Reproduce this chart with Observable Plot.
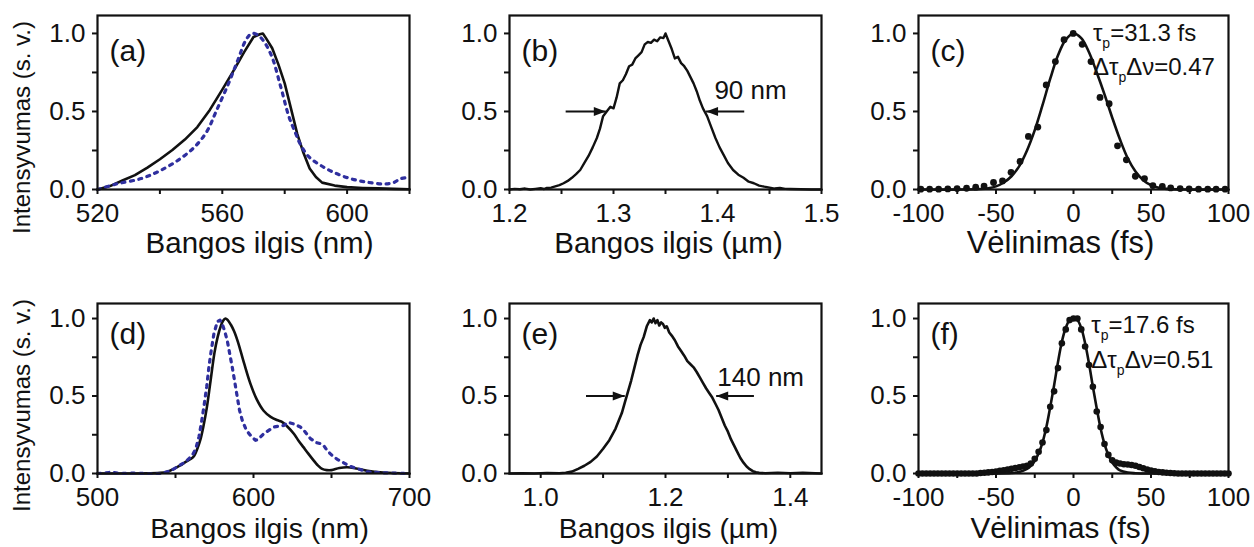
<!DOCTYPE html>
<html><head><meta charset="utf-8">
<script src="https://cdn.jsdelivr.net/npm/d3@7"></script>
<script src="https://cdn.jsdelivr.net/npm/@observablehq/plot@0.6"></script>
<style>
html,body{margin:0;padding:0;background:#fff;}
#chart{position:relative;width:1254px;height:547px;overflow:hidden;background:#fff;}
#chart svg{position:absolute;overflow:visible;}
</style></head><body><div id="chart"></div>
<script>
// ---------------- data ----------------
// (a) spectra, nm
const aSolidX = [520,524,528,532,536,540,544,548,552,556,560,564,567,570,572,573,574,576,578,580,582,584,586,588,590,592,596,600,605,610,615,620];
const aSolidY = [0,0.022,0.058,0.092,0.14,0.194,0.253,0.32,0.40,0.51,0.64,0.775,0.88,0.977,0.995,1.0,0.97,0.905,0.80,0.68,0.52,0.358,0.235,0.135,0.08,0.044,0.025,0.015,0.01,0.007,0.004,0.002];
const aDotX = [520,526,534,540,546,551,555,558,562,565,567.5,569.5,572,575.5,578.7,581.3,583.5,585,587.7,591.5,595.7,601,606.4,611.7,615,617,620];
const aDotY = [0,0.035,0.07,0.12,0.19,0.27,0.37,0.5,0.68,0.83,0.955,1.0,0.98,0.87,0.66,0.47,0.36,0.29,0.21,0.155,0.11,0.07,0.047,0.036,0.045,0.068,0.078];
// (b) spectrum, µm
const bX = [1.200,1.205,1.210,1.215,1.220,1.225,1.230,1.233,1.236,1.240,1.244,1.248,1.252,1.256,1.260,1.264,1.268,1.272,1.276,1.280,1.284,1.287,1.290,1.294,1.297,1.300,1.303,1.306,1.309,1.312,1.315,1.318,1.321,1.324,1.327,1.330,1.333,1.336,1.339,1.342,1.345,1.348,1.350,1.353,1.356,1.359,1.362,1.365,1.368,1.371,1.374,1.377,1.380,1.383,1.386,1.390,1.394,1.398,1.402,1.406,1.410,1.415,1.420,1.425,1.430,1.435,1.440,1.445,1.450,1.455,1.460,1.465,1.470,1.480,1.490,1.500];
const bY = [0,0.004,0.002,0.006,0,0.004,0.008,0.003,0.010,0.012,0.020,0.028,0.040,0.055,0.075,0.098,0.125,0.170,0.215,0.270,0.330,0.390,0.470,0.505,0.530,0.520,0.590,0.680,0.700,0.740,0.790,0.800,0.840,0.860,0.880,0.930,0.945,0.940,0.960,0.950,0.975,0.970,1.000,0.950,0.900,0.840,0.850,0.810,0.790,0.760,0.720,0.680,0.630,0.570,0.520,0.470,0.400,0.330,0.270,0.220,0.170,0.125,0.095,0.075,0.050,0.040,0.025,0.018,0.012,0.006,0.010,0.004,0.003,0.002,0,0];
const bFwhm = [{from:1.254,to:1.2926},{from:1.4257,to:1.389}];
const bNote = ["90 nm"];
// (c) autocorrelation, fs
const cDotX = [-98.5,-92.8,-87.0,-81.1,-75.1,-69.0,-63.1,-57.7,-51.6,-45.8,-40.3,-34.5,-29.1,-23.0,-17.6,-11.7,-6.1,-0.2,5.6,11.3,17.1,23.0,28.4,34.1,39.9,45.8,51.2,57.3,62.7,68.8,74.6,80.7,86.6,92.0,97.8];
const cDotY = [0.002,0.002,0.002,0.004,0.006,0.008,0.015,0.022,0.045,0.055,0.11,0.18,0.34,0.40,0.67,0.82,0.96,1.0,0.93,0.82,0.59,0.55,0.28,0.19,0.085,0.07,0.025,0.02,0.01,0.006,0.004,0.002,0.002,0.002,0.002];
const cFitX = [-100,-70,-60,-55,-50,-45,-40,-35,-30,-25,-20,-15,-10,-5,0,5,10,15,20,25,30,35,40,45,50,55,60,70,100];
const cFitY = [0,0,0.003,0.008,0.02,0.045,0.085,0.15,0.25,0.38,0.54,0.71,0.86,0.96,1.0,0.97,0.88,0.75,0.61,0.46,0.32,0.2,0.115,0.06,0.028,0.011,0.004,0,0];
const cNote = ["τ_p=31.3 fs", "Δτ_pΔν=0.47"];
// (d) spectra, nm
const dSolidX = [500,540,545,549,553,556.5,560,562,564,566,568,570,572.5,575,577,579,580.5,582,583.5,585.5,587.5,590,594,598,602,606.5,611,615,618,621.5,626,629,632,635,638.5,641,644,647,650,655,660,666,673,683,700];
const dSolidY = [0,0.004,0.012,0.03,0.052,0.075,0.095,0.115,0.16,0.22,0.31,0.42,0.6,0.78,0.88,0.95,0.985,1.0,0.99,0.96,0.92,0.85,0.71,0.58,0.48,0.405,0.365,0.345,0.335,0.305,0.255,0.21,0.17,0.13,0.085,0.055,0.03,0.022,0.022,0.035,0.04,0.032,0.017,0.006,0];
const dDotX = [500,505,508.5,515,523.5,530,540.5,545,549,553,556.5,560.8,563,565,566.5,568.2,570,571.4,573,574.6,576.8,578.5,580,581.5,583.2,584.8,586.4,588,589.6,591,592.8,595,597.1,599,601.3,603,606.6,610,613,616,619.4,622,625.8,628,630,633,636.5,640,642.9,645,647.1,649,651.4,654,657.8,661,664.2,668,672.7,678,683.4,690,700];
const dDotY = [0,0.004,0.008,0,0.003,0,0,0.012,0.03,0.055,0.075,0.118,0.16,0.235,0.32,0.43,0.56,0.685,0.80,0.90,0.98,0.99,0.964,0.92,0.857,0.77,0.685,0.59,0.493,0.41,0.343,0.29,0.257,0.235,0.214,0.22,0.257,0.28,0.30,0.305,0.31,0.33,0.32,0.31,0.30,0.27,0.225,0.20,0.193,0.18,0.15,0.13,0.107,0.09,0.069,0.05,0.039,0.027,0.011,0.008,0.004,0.003,0];
// (e) spectrum, µm
const eX = [0.950,0.970,0.990,1.010,1.030,1.040,1.050,1.060,1.070,1.080,1.090,1.100,1.110,1.120,1.130,1.135,1.140,1.145,1.150,1.155,1.160,1.165,1.170,1.175,1.178,1.181,1.184,1.187,1.190,1.193,1.196,1.199,1.202,1.206,1.210,1.215,1.220,1.225,1.230,1.235,1.240,1.245,1.250,1.255,1.260,1.265,1.270,1.275,1.280,1.285,1.290,1.295,1.300,1.305,1.310,1.315,1.320,1.325,1.330,1.335,1.340,1.345,1.350,1.360,1.380,1.400,1.420,1.450];
const eY = [0,0.002,0,0.003,0.002,0.005,0.012,0.030,0.050,0.075,0.110,0.160,0.215,0.290,0.390,0.460,0.530,0.600,0.680,0.760,0.830,0.880,0.950,0.990,0.975,1.000,0.970,0.990,0.955,0.975,0.965,0.940,0.950,0.910,0.890,0.860,0.820,0.790,0.760,0.725,0.705,0.685,0.655,0.620,0.585,0.550,0.520,0.490,0.450,0.410,0.360,0.310,0.270,0.220,0.180,0.140,0.100,0.070,0.045,0.028,0.015,0.008,0.004,0.002,0.005,0.002,0.004,0];
const eFwhm = [{from:1.0726,to:1.1347},{from:1.3417,to:1.2812}];
const eNote = ["140 nm"];
// (f) autocorrelation, fs
const fDotX = [-100,-97.5,-95,-92.5,-90,-87.5,-85,-82.5,-80,-77.5,-75,-72.5,-70,-67.5,-65,-62.5,-60,-57.5,-55,-52.5,-50,-47.5,-45,-42.5,-40,-37.5,-35,-32.5,-30,-27.5,-25,-22.5,-20,-17.5,-15,-12.5,-10,-7.5,-5,-2.5,0,2.5,5,7.5,10,12.5,15,17.5,20,22.5,25,27.5,30,32.5,35,37.5,40,42.5,45,47.5,50,52.5,55,57.5,60,62.5,65,67.5,70,72.5,75,77.5,80,82.5,85,87.5,90,92.5,95,97.5,100];
const fDotY = [0,0,0,0,0,0,0,0,0,0,0,0,0,0,0,0,0.003,0.005,0.007,0.01,0.013,0.017,0.021,0.026,0.03,0.035,0.04,0.045,0.05,0.065,0.095,0.14,0.2,0.28,0.43,0.53,0.68,0.84,0.93,0.99,1.0,1.0,0.93,0.82,0.70,0.56,0.40,0.30,0.19,0.12,0.085,0.07,0.065,0.06,0.058,0.055,0.05,0.042,0.034,0.026,0.019,0.014,0.01,0.007,0.005,0.003,0.002,0,0,0,0,0,0,0,0,0,0,0,0,0,0];
const fFitX = [-100,-50,-40,-35,-30,-27.5,-25,-22.5,-20,-17.5,-15,-12.5,-10,-7.5,-5,-2.5,0,2.5,5,7.5,10,12.5,15,17.5,20,22.5,25,27.5,30,35,40,50,100];
const fFitY = [0,0,0.003,0.01,0.03,0.05,0.08,0.13,0.2,0.3,0.43,0.57,0.72,0.85,0.94,0.99,1.0,0.99,0.94,0.84,0.71,0.56,0.42,0.29,0.19,0.12,0.07,0.04,0.02,0.006,0.002,0,0];
const fNote = ["τ_p=17.6 fs", "Δτ_pΔν=0.51"];

// axes
const yMajor = [0, 0.5, 1.0];
const yMinor = [0.25, 0.75];
const yTitle = "Intensyvumas (s. v.)";
const tags = ["(a)","(b)","(c)","(d)","(e)","(f)"];
const xTitles = ["Bangos ilgis (nm)","Bangos ilgis (µm)","Vėlinimas (fs)"];

// ---------------- rendering ----------------
const zip = (xs, ys) => xs.map((x, i) => ({x, y: ys[i]}));
const FONT = "'Liberation Sans', Arial, Helvetica, sans-serif";
const INK = "#111";
const BLUE = "#2f2f9f";

const ROWS = [
  {top: 0, height: 273, mt: 15, mb: 84, ymax: 1.115, tagDy: 36, ytDy: 25, xtDy: 54, xtScale: 1},
  {top: 273, height: 274, mt: 30, mb: 74, ymax: 1.097, tagDy: 31, ytDy: 17, xtDy: 55, xtScale: 0.96}
];
const COLS = [
  {left: 0, ml: 97, mr: 9, xtDx: 6, xtSize: 29.5},
  {left: 418, ml: 91, mr: 15, xtDx: 3, xtSize: 29.5},
  {left: 836, ml: 82, mr: 26, xtDx: -13, xtSize: 31}
];

const headSymbol = {draw(ctx) { ctx.moveTo(0, 0); ctx.lineTo(-12, -4.5); ctx.lineTo(-12, 4.5); ctx.closePath(); }};

const fmt1 = d3.format(".1f");
const fmtInt = d => String(d);

function fwhmMarks(arr) {
  return [
    Plot.link(arr, {x1: "from", x2: "to", y1: 0.5, y2: 0.5, stroke: INK, strokeWidth: 2}),
    Plot.dot(arr, {x: "to", y: 0.5, symbol: headSymbol, r: 5, fill: INK, stroke: "none",
      rotate: d => d.to > d.from ? 0 : 180})
  ];
}
function noteMarks(lines, x, y0, y1) {
  return [
    Plot.text([lines[0]], {x, y: y0, text: d => d, textAnchor: "start", lineAnchor: "middle", fontSize: 24, fill: INK}),
    Plot.text([lines[1]], {x, y: y1, text: d => d, textAnchor: "start", lineAnchor: "middle", fontSize: 24, fill: INK})
  ];
}
const dotted = {stroke: BLUE, strokeWidth: 3.2, strokeDasharray: "3,5.5"};

const panels = [
  {row: 0, col: 0, xDomain: [520, 620], xMajor: [520, 560, 600], xMinor: [540, 580, 620], xFmt: fmtInt,
   marks: [
     Plot.line(zip(aSolidX, aSolidY), {x: "x", y: "y", stroke: INK, strokeWidth: 2.6}),
     Plot.line(zip(aDotX, aDotY), {x: "x", y: "y", ...dotted, curve: "catmull-rom"})
   ]},
  {row: 0, col: 1, xDomain: [1.2, 1.5], xMajor: [1.2, 1.3, 1.4, 1.5], xMinor: [1.25, 1.35, 1.45], xFmt: fmt1,
   marks: [
     Plot.line(zip(bX, bY), {x: "x", y: "y", stroke: INK, strokeWidth: 2.4}),
     ...fwhmMarks(bFwhm),
     Plot.text(bNote, {x: 1.397, y: 0.635, text: d => d, textAnchor: "start", lineAnchor: "middle", fontSize: 26, fill: INK})
   ]},
  {row: 0, col: 2, xDomain: [-100, 100], xMajor: [-100, -50, 0, 50, 100], xMinor: [-75, -25, 25, 75], xFmt: fmtInt,
   marks: [
     Plot.line(zip(cFitX, cFitY), {x: "x", y: "y", stroke: INK, strokeWidth: 2.6, curve: "catmull-rom"}),
     Plot.dot(zip(cDotX, cDotY), {x: "x", y: "y", r: 3.4, fill: INK, stroke: "none"}),
     ...noteMarks(cNote, 12.5, 1.0, 0.78)
   ]},
  {row: 1, col: 0, xDomain: [500, 700], xMajor: [500, 600, 700], xMinor: [550, 650], xFmt: fmtInt,
   marks: [
     Plot.line(zip(dSolidX, dSolidY), {x: "x", y: "y", stroke: INK, strokeWidth: 2.6, curve: "catmull-rom"}),
     Plot.line(zip(dDotX, dDotY), {x: "x", y: "y", ...dotted})
   ]},
  {row: 1, col: 1, xDomain: [0.95, 1.45], xMajor: [1.0, 1.2, 1.4], xMinor: [1.1, 1.3], xFmt: fmt1,
   marks: [
     Plot.line(zip(eX, eY), {x: "x", y: "y", stroke: INK, strokeWidth: 2.6}),
     ...fwhmMarks(eFwhm),
     Plot.text(eNote, {x: 1.283, y: 0.62, text: d => d, textAnchor: "start", lineAnchor: "middle", fontSize: 26, fill: INK})
   ]},
  {row: 1, col: 2, xDomain: [-100, 100], xMajor: [-100, -50, 0, 50, 100], xMinor: [-75, -25, 25, 75], xFmt: fmtInt,
   marks: [
     Plot.line(zip(fFitX, fFitY), {x: "x", y: "y", stroke: INK, strokeWidth: 2.6, curve: "catmull-rom"}),
     Plot.dot(zip(fDotX, fDotY), {x: "x", y: "y", r: 3.3, fill: INK, stroke: "none"}),
     ...noteMarks(fNote, 11.5, 0.955, 0.73)
   ]}
];

function addSubscripts(svg) {
  const ns = "http://www.w3.org/2000/svg";
  svg.querySelectorAll("text").forEach(t => {
    const s = t.textContent;
    if (!s.includes("_p")) return;
    const parts = s.split("_p");
    t.textContent = "";
    parts.forEach((p, i) => {
      if (i > 0) {
        const sub = document.createElementNS(ns, "tspan");
        sub.setAttribute("font-size", "14");
        sub.setAttribute("dy", "7");
        sub.textContent = "p";
        t.appendChild(sub);
      }
      const span = document.createElementNS(ns, "tspan");
      if (i > 0) span.setAttribute("dy", "-7");
      span.textContent = p;
      t.appendChild(span);
    });
  });
}

const chart = document.getElementById("chart");
panels.forEach((p, k) => {
  const R = ROWS[p.row], C = COLS[p.col];
  const marks = [
    ...p.marks,
    Plot.frame({stroke: INK, strokeWidth: 2.2}),
    Plot.axisX(p.xMajor, {tickSize: 5, tickPadding: 9, tickFormat: p.xFmt, fontSize: 26, strokeWidth: 2, label: null, fill: INK}),
    Plot.axisX(p.xMinor, {tickSize: 5, tickFormat: () => "", strokeWidth: 2, label: null}),
    Plot.axisY(yMajor, {tickSize: 5, tickPadding: 7, tickFormat: fmt1, fontSize: 26, strokeWidth: 2, label: null, fill: INK}),
    Plot.axisY(yMinor, {tickSize: 5, tickFormat: () => "", strokeWidth: 2, label: null}),
    Plot.text([tags[k]], {frameAnchor: "top-left", dx: 12, dy: R.tagDy, textAnchor: "start", lineAnchor: "middle", fontSize: 30, fill: INK}),
    Plot.text([xTitles[p.col]], {frameAnchor: "bottom", dx: C.xtDx, dy: R.xtDy, textAnchor: "middle", lineAnchor: "middle", fontSize: C.xtSize * R.xtScale, fill: INK})
  ];
  if (p.col === 0) {
    marks.push(Plot.text([yTitle], {frameAnchor: "left", dx: -75, dy: R.ytDy, rotate: -90, textAnchor: "middle", lineAnchor: "middle", fontSize: 24, fill: INK}));
  }
  const svg = Plot.plot({
    width: 418, height: R.height,
    marginTop: R.mt, marginBottom: R.mb, marginLeft: C.ml, marginRight: C.mr,
    x: {domain: p.xDomain},
    y: {domain: [0, R.ymax]},
    style: {fontFamily: FONT, background: "transparent", overflow: "visible", color: INK},
    marks
  });
  svg.style.position = "absolute";
  svg.style.left = C.left + "px";
  svg.style.top = R.top + "px";
  svg.style.maxWidth = "none";
  addSubscripts(svg);
  chart.appendChild(svg);
});
</script></body></html>
